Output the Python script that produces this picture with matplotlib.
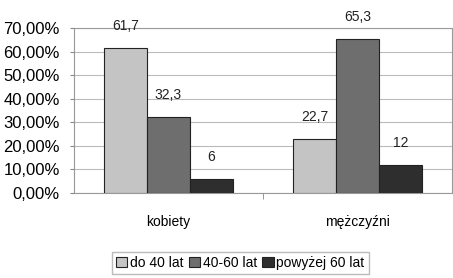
import numpy as np
import matplotlib
matplotlib.use('Agg')
import matplotlib.pyplot as plt
from matplotlib.ticker import FuncFormatter

plt.rcParams.update({'font.family': ['Liberation Sans', 'DejaVu Sans'], 'font.size': 10})

categories = ['kobiety', 'mężczyźni']
series = ['do 40 lat', '40-60 lat', 'powyżej 60 lat']
values = {'do 40 lat': [61.7, 22.7], '40-60 lat': [32.3, 65.3], 'powyżej 60 lat': [6, 12]}
colors = {'do 40 lat': '#c4c4c4', '40-60 lat': '#6e6e6e', 'powyżej 60 lat': '#2e2e2e'}

fig = plt.figure(figsize=(4.53, 2.78), dpi=100)
ax = fig.add_axes([0.163, 0.306, 0.835, 0.593])

x = np.arange(len(categories))
w = 0.227
for i, s in enumerate(series):
    xs = x + (i - 1) * w
    ax.bar(xs, values[s], w, color=colors[s], edgecolor='#222222', lw=0.8, label=s, zorder=3)
    for xi, v in zip(xs, values[s]):
        ax.annotate(f'{v:g}'.replace('.', ','), (xi, v), xytext=(0, 22), textcoords='offset pixels',
                    ha='center', va='center', fontsize=10, color='#222222')

ax.set_xlim(-0.5, 1.5)
ax.set_ylim(0, 70)
ax.set_yticks(range(0, 71, 10))
ax.yaxis.set_major_formatter(FuncFormatter(lambda v, p: f'{v:.2f}%'.replace('.', ',')))
ax.set_xticks(x)
ax.set_xticklabels(categories)
ax.set_xticks([0.5], minor=True)
ax.tick_params(axis='x', which='major', length=0, pad=16)
ax.tick_params(axis='x', which='minor', length=4, color='#888888')
ax.tick_params(axis='y', length=3, color='#888888', pad=7, labelsize=12)
ax.tick_params(axis='x', labelsize=10)
ax.yaxis.grid(True, color='#bbbbbb', lw=0.8, zorder=0)
for sp in ax.spines.values():
    sp.set_color('#999999')
    sp.set_linewidth(0.8)

fig.legend(loc='center', bbox_to_anchor=(0.53, 0.055), ncol=3, frameon=True, fancybox=False,
           edgecolor='#aaaaaa', fontsize=10, handlelength=0.8, handleheight=0.8, handletextpad=0.2,
           columnspacing=0.4, borderpad=0.3, borderaxespad=0)

fig.savefig('out.png', dpi=100)
